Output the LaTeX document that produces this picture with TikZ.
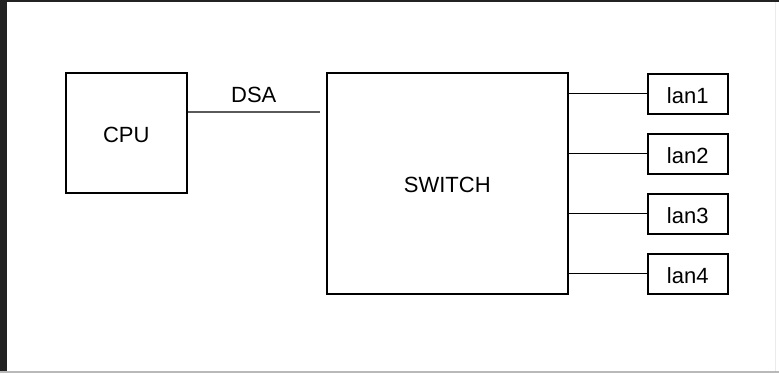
\documentclass[tikz,border=0pt]{standalone}
\usepackage{fontspec}
\setmainfont{Liberation Sans}
\usetikzlibrary{positioning,calc}
\definecolor{frameDark}{RGB}{34,34,34}
\definecolor{frameSoft}{RGB}{185,185,185}
\definecolor{frameFaint}{RGB}{235,235,235}
\definecolor{dsaGray}{RGB}{90,90,90}

\begin{document}
\begin{tikzpicture}[x=1pt,y=-1pt,
  block/.style={draw,line width=1.5pt,inner sep=0pt,anchor=north west,
                text height=19pt,font=\fontsize{22}{26}\selectfont},
  lanbox/.style={block,minimum width=80pt,minimum height=40pt},
  link/.style={line width=1.4pt}]
  \useasboundingbox (0,0) rectangle (779,373);
  % screenshot frame
  \fill[frameDark] (0,0) rectangle (7,373);
  \fill[frameDark] (0,0) rectangle (779,2);
  \draw[frameSoft,line width=1.5pt] (0,372) -- (779,372);
  \draw[frameFaint] (775,2) -- (775,371);
  % blocks
  \node[block,minimum width=121pt,minimum height=120pt] (cpu) at (65,72) {CPU};
  \node[block,minimum width=241pt,minimum height=221pt] (switch) at (326,72) {SWITCH};
  \foreach \i/\y in {1/73,2/133,3/193,4/253}
    \node[lanbox] (lan\i) at (647,\y) {lan\i};
  % cpu to switch link, stops short of the switch
  \coordinate (dsaA) at (cpu.east |- 0,112);
  \coordinate (dsaB) at (320,112);
  \draw[dsaGray,line width=1.7pt] (dsaA) -- (dsaB)
    node[midway,above=8pt,inner sep=0pt,black,font=\fontsize{22}{26}\selectfont] (dsa) {DSA};
  % switch ports
  \foreach \i in {1,...,4}
    \draw[link] (switch.east |- lan\i.west) -- (lan\i.west);
\end{tikzpicture}
\end{document}
